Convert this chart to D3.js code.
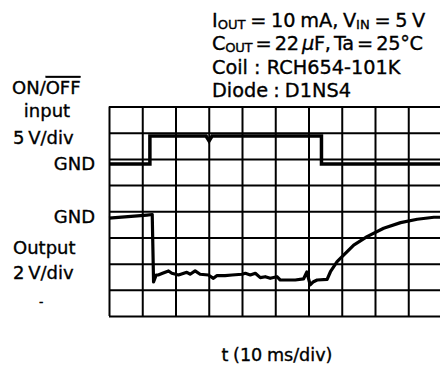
<!DOCTYPE html>
<html><head><meta charset="utf-8">
<script src="https://cdn.jsdelivr.net/npm/d3@7"></script>
<style>
html,body{margin:0;padding:0;background:#fff;}
text{font-family:"DejaVu Sans",sans-serif;fill:#000;stroke:#000;stroke-width:0.35px;}
</style></head>
<body><svg id="c" width="440" height="368"></svg>
<script>
// time axis (ms), 10 ms/div
const timeTicks = [0,10,20,30,40,50,60,70,80,90,100];
// vertical divisions (8 rows)
const divTicks = [0,1,2,3,4,5,6,7,8];

// ON/OFF input (V, relative to its GND), 5 V/div
const inT = [0, 12.3, 12.3, 29.2, 30.1, 31.0, 63.9, 63.9, 100];
const inV = [-0.97, -0.97, 4.37, 4.37, 3.42, 4.37, 4.37, -0.97, -0.97];

// Output (V, relative to its GND), 2 V/div
const outT = [0, 11.4, 13.0, 13.4, 14.2, 14.8, 16.3, 17.9, 18.9, 20.9, 23.4, 24.4, 25.9, 27.4, 29.9, 31.4, 32.4, 34.9, 37.0, 40.0, 41.0, 42.5, 44.0, 45.5, 47.0, 48.5, 50.5, 51.5, 56.0, 58.5, 59.5, 60.5, 61.5, 62.6, 65.6, 66.6, 68.6, 70.1, 73.6, 77.6, 82.6, 87.7, 92.7, 97.7, 100];
const outV = [-0.52, -0.29, -0.25, -5.40, -4.87, -4.87, -4.72, -4.56, -4.74, -4.87, -4.66, -4.81, -4.56, -4.81, -4.87, -5.12, -4.92, -4.92, -4.87, -4.81, -4.74, -4.87, -4.74, -5.07, -5.00, -5.12, -5.00, -5.25, -5.25, -5.17, -4.64, -5.63, -5.38, -5.25, -5.20, -4.62, -3.85, -3.47, -2.58, -1.94, -1.30, -0.87, -0.61, -0.46, -0.46];

const svg = d3.select("#c");
const L = 109, R = 441.5, T = 106.5, B = 316;

const x = d3.scaleLinear().domain([0,100]).range([L,R]);
const yDiv = d3.scaleLinear().domain([0,8]).range([B,T]);
const yIn = d3.scaleLinear().domain([-30,10]).range([B,T]);   // GND at 6th division
const yOut = d3.scaleLinear().domain([-8,8]).range([B,T]);    // GND at 4th division

// grid via axes
const gx = svg.append("g").attr("transform",`translate(0,${B})`)
  .call(d3.axisBottom(x).tickValues(timeTicks).tickSize(-(B-T)).tickFormat(""));
const gy = svg.append("g").attr("transform",`translate(${L},0)`)
  .call(d3.axisLeft(yDiv).tickValues(divTicks).tickSize(-(R-L)).tickFormat(""));
[gx,gy].forEach(g=>{
  g.select(".domain").remove();
  g.selectAll(".tick line").attr("stroke","#000").attr("stroke-width",2);
});

// traces
const lineIn = d3.line().x((d,i)=>x(inT[i])).y((d,i)=>yIn(inV[i]));
svg.append("path").attr("d",lineIn(inT)).attr("fill","none")
  .attr("stroke","#000").attr("stroke-width",3.5).attr("stroke-linejoin","miter");
const lineOut = d3.line().x((d,i)=>x(outT[i])).y((d,i)=>yOut(outV[i]));
svg.append("path").attr("d",lineOut(outT)).attr("fill","none")
  .attr("stroke","#000").attr("stroke-width",3.2).attr("stroke-linejoin","round");

// conditions text
const fs = 19.3;
const cond = svg.append("g").attr("font-size",fs);
function addLine(y, parts, ws, ls){
  const t = cond.append("text").attr("x",212).attr("y",y)
    .attr("word-spacing",ws).attr("letter-spacing",ls||0);
  parts.forEach(p=>{
    const s = t.append("tspan").text(p.t);
    if(p.sub){ s.attr("font-size",fs*0.68).attr("dy",1.5); }
    if(p.up){ s.attr("dy",-1.5); }
    if(p.it){ s.attr("font-style","italic"); }
  });
}
addLine(27,[{t:"I"},{t:"OUT",sub:1},{t:" = 10 mA, V",up:1},{t:"IN",sub:1},{t:" = 5 V",up:1}], -1.5);
addLine(50,[{t:"C"},{t:"OUT",sub:1},{t:" = 22 ",up:1},{t:"μ",it:1},{t:"F, Ta = 25°C"}], -2.5, -0.3);
addLine(73.5,[{t:"Coil : RCH654-101K"}], 0);
addLine(97,[{t:"Diode : D1NS4"}], -1);

// left labels
const lfs = 18;
const lab = svg.append("g").attr("font-size",lfs);
const onoff = lab.append("text").attr("x",12).attr("y",94);
onoff.append("tspan").text("ON/");
onoff.append("tspan").text("OFF").style("text-decoration","overline");
lab.append("text").attr("x",47).attr("y",117).attr("text-anchor","middle").text("input");
lab.append("text").attr("x",13).attr("y",144).attr("word-spacing",-2).text("5 V/div");
lab.append("text").attr("x",95).attr("y",169.5).attr("text-anchor","end").text("GND");
lab.append("text").attr("x",95).attr("y",222.5).attr("text-anchor","end").text("GND");
lab.append("text").attr("x",13).attr("y",254).text("Output");
lab.append("text").attr("x",13).attr("y",278.5).attr("word-spacing",-2).text("2 V/div");
lab.append("text").attr("x",39).attr("y",306).attr("font-size",12).text("-");

// x label
svg.append("text").attr("x",277).attr("y",361).attr("text-anchor","middle")
  .attr("font-size",17.6).attr("word-spacing",-1).text("t (10 ms/div)");
</script></body></html>
